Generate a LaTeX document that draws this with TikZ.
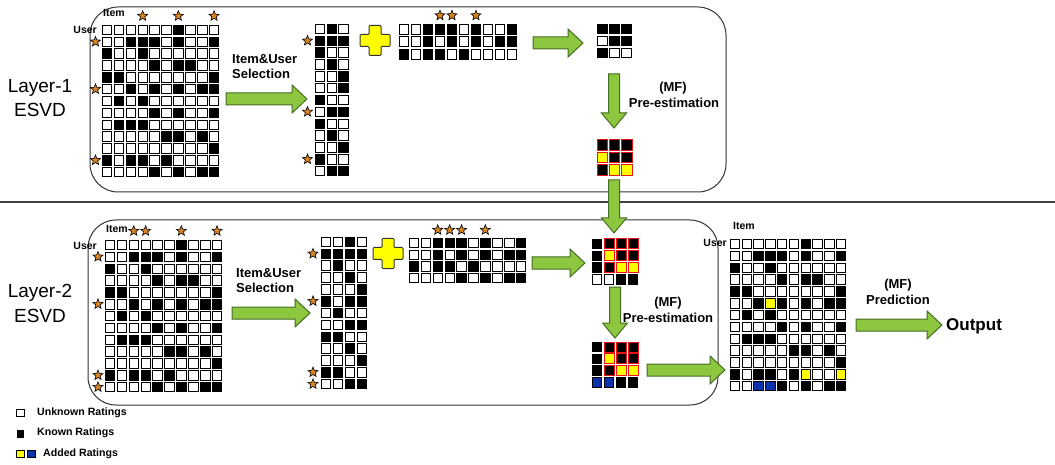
\documentclass[tikz,border=0pt]{standalone}
\usepackage{fontspec}
\setmainfont{Liberation Sans}
\usetikzlibrary{shapes.geometric}
\definecolor{gfill}{RGB}{141,198,63}
\definecolor{gline}{RGB}{70,110,35}
\definecolor{starc}{RGB}{215,130,35}
\definecolor{bluec}{RGB}{10,50,170}
\definecolor{yel}{RGB}{255,255,0}
\definecolor{redb}{RGB}{235,20,20}
\tikzset{
  cw/.style={draw=black,line width=0.8pt,fill=white},
  cb/.style={draw=black,line width=0.8pt,fill=black},
  cy/.style={draw=black,line width=0.8pt,fill=yel},
  cbl/.style={draw=black,line width=0.8pt,fill=bluec},
  crb/.style={draw=redb,line width=0.8pt,fill=black},
  cry/.style={draw=redb,line width=0.8pt,fill=yel},
  garrow/.style={draw=gline,line width=1pt,fill=gfill,line join=miter},
  plussty/.style={draw=black!80,line width=1pt,fill=yel},
  stary/.style={star,star points=5,star point ratio=2.3,minimum size=10.5pt,inner sep=0pt,fill=starc,draw=black,line width=0.6pt},
  lbl/.style={font=\bfseries\fontsize{13}{15}\selectfont,inner sep=0pt},
  small/.style={font=\bfseries\fontsize{10.5}{12}\selectfont,inner sep=0pt},
  legtxt/.style={font=\bfseries\fontsize{10.6}{12}\selectfont,inner sep=0pt,anchor=west},
  layer/.style={font=\fontsize{19}{21}\selectfont,inner sep=0pt},
  boxsty/.style={draw=black!80,line width=1pt,rounded corners=28pt},
}
\newcommand\drawgrid[5]{%
  \foreach \row [count=\r from 0] in {#5} {
    \foreach \v [count=\k from 0] in \row {
      \ifcase\v
        \draw[cw] ({#1+\k*#3+1.2},{#2+\r*#4+1.2}) rectangle ++({#3-2.4},{#4-2.4});
      \or
        \draw[cb] ({#1+\k*#3+1.2},{#2+\r*#4+1.2}) rectangle ++({#3-2.4},{#4-2.4});
      \or
        \draw[cy] ({#1+\k*#3+1.2},{#2+\r*#4+1.2}) rectangle ++({#3-2.4},{#4-2.4});
      \or
        \draw[cbl] ({#1+\k*#3+1.2},{#2+\r*#4+1.2}) rectangle ++({#3-2.4},{#4-2.4});
      \or
        \draw[crb] ({#1+\k*#3+0.9},{#2+\r*#4+0.9}) rectangle ++({#3-1.8},{#4-1.8});
      \or
        \draw[cry] ({#1+\k*#3+0.9},{#2+\r*#4+0.9}) rectangle ++({#3-1.8},{#4-1.8});
      \fi
    }
  }%
}
\newcommand\harrow[3]{%
  \draw[garrow] (#1,#3-6) -- (#2-15,#3-6) -- (#2-15,#3-14) -- (#2,#3) -- (#2-15,#3+14) -- (#2-15,#3+6) -- (#1,#3+6) -- cycle;}
\newcommand\varrow[3]{%
  \draw[garrow] (#1-5.5,#2) -- (#1-5.5,#3-15) -- (#1-12.5,#3-15) -- (#1,#3) -- (#1+12.5,#3-15) -- (#1+5.5,#3-15) -- (#1+5.5,#2) -- cycle;}
\newcommand\plusat[2]{%
  \draw[plussty,rounded corners=1pt] (#1-6,#2-15) -- (#1+6,#2-15) -- (#1+6,#2-6) -- (#1+15,#2-6) -- (#1+15,#2+6) -- (#1+6,#2+6) -- (#1+6,#2+15) -- (#1-6,#2+15) -- (#1-6,#2+6) -- (#1-15,#2+6) -- (#1-15,#2-6) -- (#1-6,#2-6) -- cycle;}
\begin{document}
\begin{tikzpicture}[x=1pt,y=-1pt]
\useasboundingbox[fill=white] (0,0) rectangle (1055,465);
% boxes and separator
\draw[boxsty] (90,7) rectangle (726,192);
\draw[boxsty] (88,220) rectangle (718,405);
\draw[black!75,line width=1.2pt] (0,202) -- (1055,202);
% layer labels
\node[layer] (l1a) at (40,88) {Layer-1};
\node[layer] (l1b) at (40,110) {ESVD};
\node[layer] (l2a) at (40,293) {Layer-2};
\node[layer] (l2b) at (40,316) {ESVD};
% ---------- Layer 1 ----------
\drawgrid{101}{24}{11.9}{11.85}{{0,0,0,0,0,0,1,0,0,0},{0,0,1,1,1,0,1,0,0,1},{1,0,0,1,0,0,0,0,0,0},{0,0,0,0,1,0,1,1,0,0},{1,1,0,0,0,0,0,0,0,1},{0,0,1,0,1,0,1,0,1,1},{0,1,0,1,0,0,0,0,0,0},{0,0,0,0,1,0,1,0,0,1},{0,1,1,1,0,0,0,0,0,0},{0,0,0,0,0,1,1,0,1,0},{0,0,0,0,0,0,0,0,0,1},{1,0,1,1,0,1,0,0,0,0},{0,0,0,0,1,0,1,0,1,1}}
\node[small,anchor=west] (item1) at (103,13) {Item};
\node[small,anchor=east] (user1) at (97,30) {User};
\foreach \c [count=\i] in {3,6,9} \node[stary] (s1t\i) at ({101+\c*11.9+5.95},16) {};
\foreach \c [count=\i] in {1,5,11} \node[stary] (s1u\i) at (95.5,{24+\c*11.85+5.9}) {};
\harrow{226}{307}{99}
\node[lbl,anchor=west] (sel1a) at (232,59) {Item\&User};
\node[lbl,anchor=west] (sel1b) at (232,74) {Selection};
\drawgrid{314}{23}{11.8}{11.85}{{0,1,0},{1,1,1},{1,0,0},{0,1,0},{0,0,1},{0,0,1},{1,0,0},{0,1,1},{1,0,0},{0,1,0},{0,0,1},{1,0,0},{0,1,1}}
\foreach \c [count=\i] in {1,7,11} \node[stary] (s1c\i) at (307.5,{23+\c*11.85+5.9}) {};
\plusat{375}{40.5}
\drawgrid{398}{23}{12}{12.4}{{0,0,1,1,1,0,1,0,0,1},{0,0,1,0,1,0,1,0,1,1},{1,0,1,1,0,1,0,0,0,0}}
\foreach \c [count=\i] in {3,4,6} \node[stary] (s1r\i) at ({398+\c*12+6},15.5) {};
\harrow{533}{583}{43}
\drawgrid{596}{23}{12.3}{12}{{1,1,1},{0,1,1},{1,0,0}}
\varrow{614}{74}{128}
\node[lbl] (mf1a) at (673,88) {(MF)};
\node[lbl] (mf1b) at (674,103) {Pre-estimation};
\drawgrid{596}{139}{12.3}{12.3}{{4,4,4},{5,4,4},{4,5,5}}
\varrow{614}{180}{233}
% ---------- Layer 2 ----------
\drawgrid{104}{239}{11.9}{11.85}{{0,0,0,0,0,0,1,0,0,0},{0,0,1,1,1,0,1,0,0,1},{1,0,0,1,0,0,0,0,0,0},{0,0,0,0,1,0,1,1,0,0},{1,1,0,0,0,0,0,0,0,1},{0,0,1,0,1,0,1,0,1,1},{0,1,0,1,0,0,0,0,0,0},{0,0,0,0,1,0,1,0,0,1},{0,1,1,1,0,0,0,0,0,0},{0,0,0,0,0,1,1,0,1,0},{0,0,0,0,0,0,0,0,0,1},{1,0,1,1,0,1,0,0,0,0},{0,0,0,0,1,0,1,0,1,1}}
\node[small,anchor=west] (item2) at (106,229) {Item};
\node[small,anchor=east] (user2) at (97,246) {User};
\foreach \c [count=\i] in {2,3,6,9} \node[stary] (s2t\i) at ({104+\c*11.9+5.95},231) {};
\foreach \c [count=\i] in {1,5,11,12} \node[stary] (s2u\i) at (98,{239+\c*11.85+5.9}) {};
\harrow{232}{310}{313}
\node[lbl,anchor=west] (sel2a) at (236,273) {Item\&User};
\node[lbl,anchor=west] (sel2b) at (236,288) {Selection};
\drawgrid{320}{236}{12}{11.85}{{0,0,1,0},{1,1,1,1},{0,1,0,0},{0,0,1,0},{0,0,0,1},{1,0,1,1},{0,1,0,0},{0,0,1,1},{1,1,0,0},{0,0,1,0},{0,0,0,1},{1,1,0,0},{0,0,1,1}}
\foreach \c [count=\i] in {1,5,11,12} \node[stary] (s2c\i) at (313,{236+\c*11.85+5.9}) {};
\plusat{388}{253.5}
\drawgrid{408}{237}{11.9}{11.75}{{0,0,1,1,1,0,1,0,0,1},{0,0,1,0,1,0,1,0,1,1},{1,0,1,1,0,1,0,0,0,0},{0,0,0,0,1,0,1,0,1,1}}
\foreach \c [count=\i] in {2,3,4,6} \node[stary] (s2r\i) at ({408+\c*11.9+5.95},230) {};
\harrow{532}{585}{263}
\drawgrid{591}{238}{12}{11.8}{{1,4,4,4},{1,5,4,4},{1,4,5,5},{0,0,1,1}}
\varrow{615}{287}{338}
\node[lbl] (mf2a) at (668,303) {(MF)};
\node[lbl] (mf2b) at (668,318) {Pre-estimation};
\drawgrid{591}{341}{12}{11.8}{{1,4,4,4},{1,5,4,4},{1,4,5,5},{3,3,1,1}}
\harrow{647}{725}{370}
% output grid
\drawgrid{729}{238}{11.8}{11.85}{{0,0,0,0,0,0,1,0,0,0},{0,0,1,1,1,0,1,0,0,1},{1,0,0,1,0,0,0,0,0,0},{0,0,0,0,1,0,1,1,0,0},{1,1,0,0,0,0,0,0,0,1},{0,0,1,2,1,0,1,0,1,1},{0,1,0,1,0,0,0,0,0,0},{0,0,0,0,1,0,1,0,0,1},{0,1,1,1,0,0,0,0,0,0},{0,0,0,0,0,1,1,0,1,0},{0,0,0,0,0,0,0,0,0,1},{1,0,1,1,0,1,2,0,0,2},{0,0,3,3,1,0,1,0,1,1}}
\node[small,anchor=west] (item3) at (733,226) {Item};
\node[small,anchor=east] (user3) at (727,243) {User};
\harrow{856}{942}{325}
\node[lbl] (mf3a) at (898,285) {(MF)};
\node[lbl] (mf3b) at (898,300) {Prediction};
\node[font=\bfseries\fontsize{17}{19}\selectfont,inner sep=0pt,anchor=west] (out) at (946,326) {Output};
% legend
\draw[cw] (16.5,409) rectangle (24,416.5);
\draw[cb] (17,430.5) rectangle (23.5,437);
\draw[cy] (16.5,450) rectangle (24,457.5);
\draw[cbl] (27.5,450) rectangle (35,457.5);
\node[legtxt] (lg1) at (37,413) {Unknown Ratings};
\node[legtxt] (lg2) at (37,433) {Known Ratings};
\node[legtxt] (lg3) at (43,454) {Added Ratings};
\end{tikzpicture}
\end{document}
